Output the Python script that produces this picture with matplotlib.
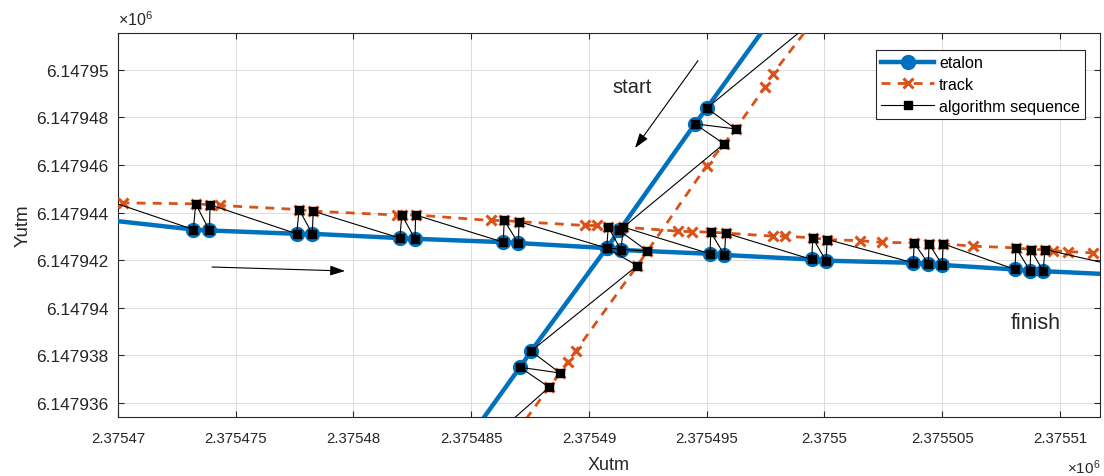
import numpy as np
import matplotlib
matplotlib.use("Agg")
import matplotlib.pyplot as plt
from matplotlib.ticker import FixedLocator, FuncFormatter

plt.rcParams['font.family'] = ['Liberation Sans', 'DejaVu Sans']
plt.rcParams['mathtext.fontset'] = 'custom'
plt.rcParams['mathtext.rm'] = 'Liberation Sans'
plt.rcParams['mathtext.it'] = 'Liberation Sans'

nan = np.nan

# ---------------- data (UTM coordinates, metres) ----------------
# etalon: steep pass (top -> bottom), break, horizontal pass (left -> right)
etalon_x = [2375498.81, 2375495.00, 2375494.50, 2375491.29, 2375490.75,
            2375487.54, 2375487.07, 2375483.25, nan,
            2375466.26,
            2375473.20, 2375473.88, 2375477.59, 2375478.25, 2375481.97,
            2375482.61, 2375486.36, 2375487.00, 2375490.75, 2375491.36,
            2375495.14, 2375495.75, 2375499.46, 2375500.06, 2375503.77,
            2375504.41, 2375505.00, 2375508.09, 2375508.73, 2375509.29,
            2375514.46]
etalon_y = [6147953.61, 6147948.39, 6147947.73, 6147943.25, 6147942.51,
            6147938.18, 6147937.50, 6147932.24, nan,
            6147944.05,
            6147943.29, 6147943.25, 6147943.11, 6147943.11, 6147942.93,
            6147942.90, 6147942.76, 6147942.72, 6147942.51, 6147942.43,
            6147942.27, 6147942.22, 6147942.03, 6147941.98, 6147941.89,
            6147941.85, 6147941.80, 6147941.61, 6147941.56, 6147941.54,
            6147941.30]

track_x = [2375499.55, 2375497.80, 2375497.47, 2375496.23, 2375495.73,
           2375495.00, 2375492.48, 2375492.05, 2375489.45, 2375489.10,
           2375488.77, 2375488.31, 2375486.22, nan,
           2375466.69, 2375469.77, 2375470.21, 2375473.30, 2375473.91,
           2375474.33, 2375477.69, 2375478.29, 2375481.83, 2375482.05,
           2375482.64, 2375485.83, 2375486.40, 2375487.03, 2375489.83,
           2375490.36, 2375490.82, 2375491.46, 2375493.79, 2375494.36,
           2375495.17, 2375495.81, 2375497.83, 2375498.32, 2375499.50,
           2375500.12, 2375501.51, 2375502.43, 2375503.81, 2375504.44,
           2375505.04, 2375506.32, 2375508.13, 2375508.76, 2375509.36,
           2375509.72, 2375510.35, 2375511.40, 2375513.40]
track_y = [6147952.08, 6147949.83, 6147949.27, 6147947.52, 6147946.89,
           6147945.98, 6147942.38, 6147941.77, 6147938.20, 6147937.74,
           6147937.26, 6147936.66, 6147933.82, nan,
           6147944.60, 6147944.44, 6147944.41, 6147944.37, 6147944.33,
           6147944.30, 6147944.13, 6147944.06, 6147943.90, 6147943.90,
           6147943.90, 6147943.67, 6147943.67, 6147943.62, 6147943.46,
           6147943.46, 6147943.39, 6147943.39, 6147943.22, 6147943.20,
           6147943.18, 6147943.14, 6147943.01, 6147943.01, 6147942.94,
           6147942.87, 6147942.82, 6147942.75, 6147942.73, 6147942.69,
           6147942.69, 6147942.59, 6147942.52, 6147942.45, 6147942.45,
           6147942.40, 6147942.36, 6147942.31, 6147942.22]

# algorithm sequence: alternating etalon / track points
algo_x = [2375499.55, 2375495.00, 2375496.23, 2375494.50, 2375495.73,
          2375491.29, 2375492.48, 2375490.75, 2375492.05,
          2375487.54, 2375488.77, 2375487.07, 2375488.31, 2375483.25, nan,
          2375469.77,
          2375473.20, 2375473.30, 2375473.88, 2375473.91,
          2375477.59, 2375477.69, 2375478.25, 2375478.29,
          2375481.97, 2375482.05, 2375482.61, 2375482.64,
          2375486.36, 2375486.40, 2375487.00, 2375487.03,
          2375490.75, 2375490.82, 2375491.36, 2375491.46,
          2375495.14, 2375495.17, 2375495.75, 2375495.81,
          2375499.46, 2375499.50, 2375500.06, 2375500.12,
          2375503.77, 2375503.81, 2375504.41, 2375504.44, 2375505.00, 2375505.04,
          2375508.09, 2375508.13, 2375508.73, 2375508.76, 2375509.29, 2375509.36,
          2375514.46]
algo_y = [6147952.08, 6147948.39, 6147947.52, 6147947.73, 6147946.89,
          6147943.25, 6147942.38, 6147942.51, 6147941.77,
          6147938.18, 6147937.26, 6147937.50, 6147936.66, 6147932.24, nan,
          6147944.44,
          6147943.29, 6147944.37, 6147943.25, 6147944.33,
          6147943.11, 6147944.13, 6147943.11, 6147944.06,
          6147942.93, 6147943.90, 6147942.90, 6147943.90,
          6147942.76, 6147943.67, 6147942.72, 6147943.62,
          6147942.51, 6147943.39, 6147942.43, 6147943.39,
          6147942.27, 6147943.18, 6147942.22, 6147943.14,
          6147942.03, 6147942.94, 6147941.98, 6147942.87,
          6147941.89, 6147942.73, 6147941.85, 6147942.69, 6147941.80, 6147942.69,
          6147941.61, 6147942.52, 6147941.56, 6147942.45, 6147941.54, 6147942.45,
          6147941.30]

x_ticks = [2375470, 2375475, 2375480, 2375485, 2375490, 2375495,
           2375500, 2375505, 2375510]
y_ticks = [6147936, 6147938, 6147940, 6147942, 6147944, 6147946,
           6147948, 6147950]
x_lim = (2375470.0, 2375511.7)
y_lim = (6147935.41, 6147951.55)

# ---------------- figure ----------------
BLUE = '#0072BD'
ORANGE = '#D95319'
TXT = '#262626'

fig = plt.figure(figsize=(11.04, 4.77), dpi=100)
ax = fig.add_axes([118/1104, 1-418/477, 982/1104, 384/477])

ax.plot(etalon_x, etalon_y, '-o', color=BLUE, lw=3.2, ms=10,
        mfc=BLUE, mec=BLUE, label='etalon', zorder=3)
ax.plot(track_x, track_y, '--x', color=ORANGE, lw=2.0, ms=7, mew=2.2,
        dashes=(3.2, 2.6), label='track', zorder=4)
ax.plot(algo_x, algo_y, '-s', color='black', lw=0.8, ms=6,
        mfc='black', mec='black', label='algorithm sequence', zorder=5)

ax.set_xlim(*x_lim)
ax.set_ylim(*y_lim)
ax.xaxis.set_major_locator(FixedLocator(x_ticks))
ax.yaxis.set_major_locator(FixedLocator(y_ticks))
fmt = FuncFormatter(lambda v, p: '%.7g' % (v / 1e6))
ax.xaxis.set_major_formatter(fmt)
ax.yaxis.set_major_formatter(fmt)

ax.grid(True, color='#dcdcdc', lw=0.7, zorder=0)
ax.set_axisbelow(True)
ax.tick_params(direction='in', length=4, width=0.8, colors=TXT,
               top=True, right=True)
ax.tick_params(axis='x', labelsize=10.8, pad=10)
ax.tick_params(axis='y', labelsize=12.4, pad=7)
for s in ax.spines.values():
    s.set_color(TXT)
    s.set_linewidth(0.8)

ax.set_xlabel('Xutm', fontsize=13, color=TXT, labelpad=8)
ax.set_ylabel('Yutm', fontsize=13.5, color=TXT, labelpad=3)

ax.text(0.0, 1.012, r'$\times10^{6}$', transform=ax.transAxes,
        ha='left', va='bottom', fontsize=11.5, color=TXT)
ax.text(1.0, -0.105, r'$\times10^{6}$', transform=ax.transAxes,
        ha='right', va='top', fontsize=11, color=TXT)

leg = ax.legend(loc='upper right', bbox_to_anchor=(0.9847, 0.9557),
                borderaxespad=0, fontsize=11.6, handlelength=3.3,
                handletextpad=0.3, labelspacing=0.42, borderpad=0.32,
                fancybox=False, framealpha=1, edgecolor=TXT)
leg.get_frame().set_linewidth(0.8)

ax.annotate('', xy=(0.5265, 0.7005), xytext=(0.5906, 0.9279),
            xycoords='axes fraction',
            arrowprops=dict(arrowstyle='-|>,head_length=0.9,head_width=0.3',
                            color='black', lw=0.8, shrinkA=0, shrinkB=0))
ax.annotate('', xy=(0.2312, 0.3802), xytext=(0.0957, 0.3906),
            xycoords='axes fraction',
            arrowprops=dict(arrowstyle='-|>,head_length=0.9,head_width=0.3',
                            color='black', lw=0.8, shrinkA=0, shrinkB=0))
ax.text(0.5234, 0.8594, 'start', transform=ax.transAxes, ha='center',
        va='center', fontsize=14.5, color=TXT)
ax.text(0.9348, 0.2448, 'finish', transform=ax.transAxes, ha='center',
        va='center', fontsize=15.5, color=TXT)

fig.savefig('out.png', dpi=100)
